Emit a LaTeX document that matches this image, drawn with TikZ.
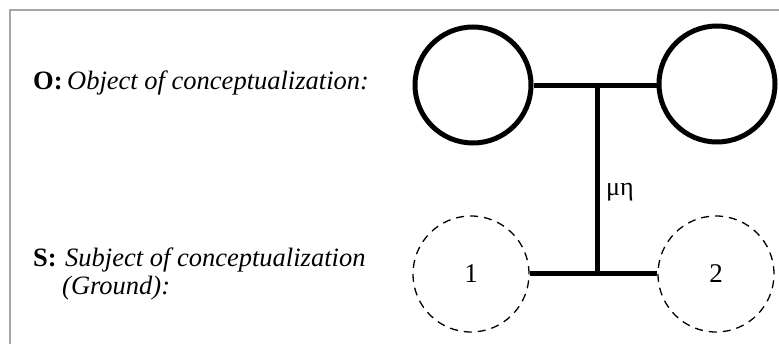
\documentclass[tikz,border=0pt]{standalone}
\usepackage{fontspec}
\setmainfont{Liberation Serif}
\begin{document}
\begin{tikzpicture}[x=1pt,y=-1pt,
  lbl/.style={anchor=base west,inner sep=0pt,font=\fontsize{26.5}{28}\selectfont},
  objc/.style={draw,circle,line width=5pt,minimum size=116pt,inner sep=0pt},
  subjc/.style={draw,circle,dashed,dash pattern=on 8pt off 6pt,line width=1.3pt,minimum size=116pt,inner sep=0pt,font=\fontsize{27}{28}\selectfont},
  thick/.style={line width=5pt}]
\useasboundingbox (0,0) rectangle (779,344);
\draw[gray!70,line width=1.5pt] (10,344) -- (10,10) -- (779,10);
\node[lbl] (o) at (33,90) {\textbf{O:}};
\node[lbl] (ot) at (67,90) {\textit{Object of conceptualization:}};
\node[lbl] (s) at (33,267) {\textbf{S:}};
\node[lbl] (st) at (65,267) {\textit{Subject of conceptualization}};
\node[lbl] (gt) at (62,295) {\textit{(Ground):}};
\node[objc] (tl) at (473,85) {};
\node[objc] (tr) at (717,84) {};
\node[subjc] (bl) at (471,274) {1};
\node[subjc] (br) at (716,274) {2};
\coordinate (jt) at (597,86);
\coordinate (jb) at (597,274);
\draw[thick] (tl.east |- jt) -- (tr.west |- jt);
\draw[thick] (bl.east) -- (br.west);
\draw[thick] (jt) -- (jb);
\node[anchor=west,inner sep=0pt,font=\fontsize{26}{28}\selectfont] (mu) at (606,192) {μη};
\end{tikzpicture}
\end{document}
